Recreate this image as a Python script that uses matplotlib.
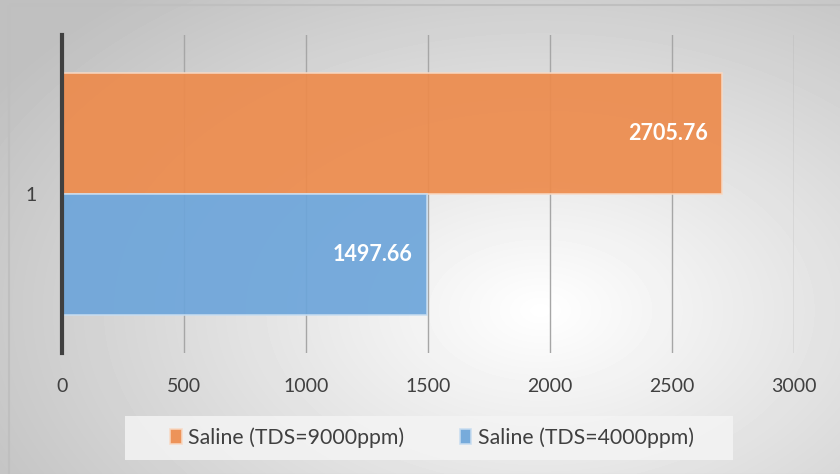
import numpy as np
import matplotlib
matplotlib.use("Agg")
import matplotlib.pyplot as plt
from matplotlib.patches import Rectangle

plt.rcParams['font.family'] = ['Lato', 'DejaVu Sans']

category = ["1"]
series_names = ["Saline (TDS=9000ppm)", "Saline (TDS=4000ppm)"]
series_values = [2705.76, 1497.66]
series_colors = ["#ED8B4C", "#6DA5DA"]
xticks = [0, 500, 1000, 1500, 2000, 2500, 3000]

fig = plt.figure(figsize=(8.4, 4.74), dpi=100)

# radial grey-to-white background
bg = fig.add_axes([0, 0, 1, 1], zorder=-10)
yy, xx = np.mgrid[0:474, 0:840]
r = np.sqrt(((xx - 540) / 520.0) ** 2 + ((yy - 310) / 330.0) ** 2)
shade = 1.0 - 0.25 * np.clip(r, 0, 1.25) / 1.25
bg.imshow(shade, cmap="gray", vmin=0, vmax=1, extent=[0, 840, 474, 0], aspect="auto")
bg.add_patch(Rectangle((9, 5), 840, 470, fill=False, edgecolor="#BFBFBF", lw=1.5))
# legend panel
bg.add_patch(Rectangle((125, 416), 608, 44, facecolor="#F4F4F4", edgecolor="none", alpha=0.85))
bg.set_xlim(0, 840)
bg.set_ylim(474, 0)
bg.axis("off")

ax = fig.add_axes([62 / 840, 1 - 353 / 474, (794 - 62) / 840, (353 - 35) / 474])
ax.patch.set_alpha(0)

h = 0.38
offsets = [h / 2, -h / 2]
edge_colors = ["#F8D9C4", "#C8DDF0"]
for name, val, col, ec, off in zip(series_names, series_values, series_colors, edge_colors, offsets):
    ax.barh(0 + off, val, height=h, color=col, alpha=0.92, edgecolor=ec,
            linewidth=1.2, label=name, zorder=3)
    ax.text(val - 60, off, f"{val:.2f}", ha="right", va="center", color="white",
            fontsize=15.5, fontweight="bold", zorder=4)

ax.set_xlim(0, 3000)
ax.set_ylim(-0.5, 0.5)
ax.set_xticks(xticks)
ax.set_xticklabels([str(t) for t in xticks])
ax.set_yticks([0])
ax.set_yticklabels(category)
ax.grid(axis="x", color="#A6A6A6", lw=1, zorder=1)
for s in ["top", "right", "bottom"]:
    ax.spines[s].set_visible(False)
ax.spines["left"].set_color("#404040")
ax.spines["left"].set_linewidth(3)
ax.spines["left"].set_zorder(5)
ax.tick_params(axis="both", length=0, labelsize=14, labelcolor="#404040")
ax.tick_params(axis="x", pad=18)
ax.tick_params(axis="y", pad=18)

leg = fig.legend(loc="center", bbox_to_anchor=(432 / 840, 1 - 438 / 474), ncol=2,
                 fontsize=15.3, frameon=False, handlelength=0.55, handleheight=0.7,
                 handletextpad=0.3, columnspacing=2.6)
for t in leg.get_texts():
    t.set_color("#404040")

fig.savefig("out.png", dpi=100)
